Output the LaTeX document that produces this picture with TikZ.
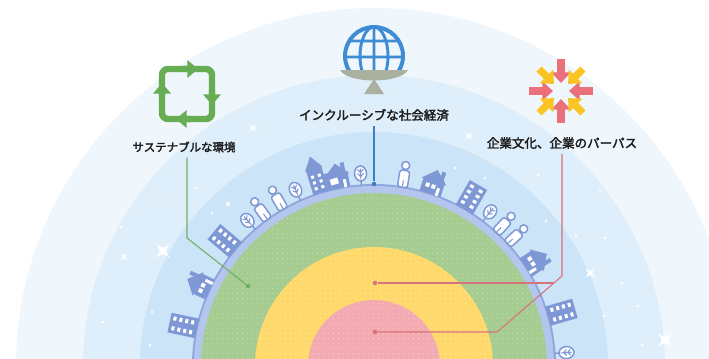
\documentclass[tikz,border=0pt]{standalone}
\usepackage{fontspec}
\newfontfamily\jpfont{Noto Sans CJK JP}[FakeBold=2.5]
\usetikzlibrary{arrows.meta,calc,patterns.meta}

\definecolor{ringA}{RGB}{239,246,252}
\definecolor{ringB}{RGB}{222,238,250}
\definecolor{ringC}{RGB}{203,228,247}
\definecolor{rimedge}{RGB}{143,167,222}
\definecolor{rimband}{RGB}{180,198,237}
\definecolor{greenlayer}{RGB}{166,204,146}
\definecolor{greendot}{RGB}{192,221,177}
\definecolor{yellowlayer}{RGB}{255,217,107}
\definecolor{yellowdot}{RGB}{255,231,160}
\definecolor{pinklayer}{RGB}{243,170,176}
\definecolor{pinkdot}{RGB}{249,200,205}
\definecolor{bldgblue}{RGB}{126,151,213}
\definecolor{envgreen}{RGB}{110,175,100}
\definecolor{socblue}{RGB}{60,125,200}
\definecolor{cultred}{RGB}{215,115,125}
\definecolor{recyclegreen}{RGB}{102,173,84}
\definecolor{globeblue}{RGB}{62,140,212}
\definecolor{scalegray}{RGB}{170,177,160}
\definecolor{burstred}{RGB}{234,112,122}
\definecolor{burstyellow}{RGB}{250,196,35}
\definecolor{labelink}{RGB}{30,30,30}

\tikzset{
  ringlabel/.style={font=\jpfont\fontsize{9.4}{11}\selectfont, text=labelink, inner sep=1pt, outer sep=3pt},
  leader/.style={line width=0.8pt},
  dotmark/.style={circle, fill=#1, inner sep=0pt, minimum size=3.5pt},
  bldg/.style={fill=bldgblue},
  outline/.style={draw=bldgblue, fill=white, line width=1.1pt},
  % rim figures, drawn upright with the base at (0,0)
  house/.pic={
    \fill[bldg] (-11,0) rectangle (11,14);
    \fill[bldg] (-13,13) -- (0,25) -- (13,13) -- cycle;
    \fill[bldg] (5,16) rectangle (9,25);
    \fill[white] (-7,6) rectangle (-3,10) (-1,6) rectangle (3,10) (5,0) rectangle (8,8);
  },
  tower/.pic={
    \fill[bldg] (-10,0) rectangle (10,28);
    \foreach \i in {0,1,2,3}
      \foreach \j in {-1,1}
        \fill[white] (\j*5-2,4+\i*6) rectangle ++(4,3);
  },
  church/.pic={
    \fill[bldg] (-8,0) rectangle (8,26);
    \fill[bldg] (-9,25) -- (0,38) -- (9,25) -- cycle;
    \fill[bldg] (8,0) rectangle (24,17);
    \foreach \i in {0,1,2}
      \fill[white] (-5,4+\i*6) rectangle ++(3,3) (2,4+\i*6) rectangle ++(3,3);
    \fill[white] (12,4) rectangle (20,10);
  },
  person/.pic={
    \draw[outline, rounded corners=2pt] (-5,0) rectangle (5,17);
    \draw[outline] (0,22) circle [radius=4];
    \draw[bldgblue, line width=0.8pt] (0,0) -- (0,7);
  },
  tree/.pic={
    \draw[bldgblue, line width=1pt] (0,0) -- (0,6);
    \draw[outline] (0,12) ellipse [x radius=6, y radius=7.5];
    \draw[bldgblue, line width=0.8pt] (0,6) -- (0,17) (0,9) -- (-3,12) (0,9) -- (3,12) (0,13) -- (-3,16) (0,13) -- (3,16);
  },
  sparkle/.pic={
    \fill[white] (0,-6) .. controls (1,-1) .. (6,0) .. controls (1,1) .. (0,6)
      .. controls (-1,1) .. (-6,0) .. controls (-1,-1) .. (0,-6) -- cycle;
  },
  % icons above the labels (y points up inside a pic)
  recycle/.pic={
    \foreach \r in {0,-90,-180,-270}
      \draw[recyclegreen, line width=4.8pt, rounded corners=4.5pt, rotate=\r,
        -{Triangle[length=8pt,width=13pt]}] (-25,-4) -- (-25,25) -- (11,25);
  },
  globe/.pic={
    \begin{scope}
      \clip (-36,-15) rectangle (36,36);
      \draw[globeblue, line width=3pt] (0,0) circle [radius=29];
      \draw[globeblue, line width=2.2pt] (0,0) ellipse [x radius=14, y radius=29]
        (0,29) -- (0,-15) (-25,15) -- (25,15) (-29,-1) -- (29,-1);
    \end{scope}
    \fill[scalegray] (-34,-14) -- (34,-14) .. controls (26,-28) and (-26,-28) .. cycle;
    \fill[scalegray] (0,-23) -- (-10,-38) -- (10,-38) -- cycle;
  },
  burst/.pic={
    \foreach \a in {0,90,180,270}
      \draw[burstred, line width=5.5pt, -{Triangle[length=8pt,width=14pt]}] (\a:32) -- (\a:8);
    \foreach \a in {45,135,225,315}
      \draw[burstyellow, line width=5.5pt, -{Triangle[length=8pt,width=14pt]}] (\a:31) -- (\a:10);
  }
}

\begin{document}
\begin{tikzpicture}[x=0.75pt,y=0.75pt,yscale=-1,xscale=1]
\useasboundingbox (0,0) rectangle (709,358);
\clip (0,0) rectangle (709,358);
\coordinate (cen) at (374,366);

% sky rings
\fill[ringA] (cen) circle [radius=358];
\fill[ringB] (cen) circle [radius=291];
\fill[ringC] (cen) circle [radius=234];

% stars and specks
\foreach \x/\y/\s in {163/251/1.6, 665/340/1.6, 590/273/1.1, 124/257/0.7, 253/128/0.8, 469/136/0.8, 228/204/0.55}
  \pic[scale=\s, rotate=45] at (\x,\y) {sparkle};
\foreach \x/\y in {152/312, 103/322, 150/345, 196/188, 212/213, 455/168, 485/178, 546/221, 538/175, 604/316, 622/283, 638/306, 576/236, 605/238, 642/345, 121/227, 160/200, 600/190}
  \fill[white] (\x,\y) circle [radius=1.3];

% planet: rim and the three layers
\fill[rimedge] (cen) circle [radius=182];
\fill[rimband] (cen) circle [radius=180];
\fill[greenlayer] (cen) circle [radius=173];
\fill[pattern={Dots[distance=4pt,radius=0.45pt]}, pattern color=greendot] (cen) circle [radius=173];
\fill[yellowlayer] (cen) circle [radius=119];
\fill[pattern={Dots[distance=4pt,radius=0.45pt]}, pattern color=yellowdot] (cen) circle [radius=119];
\fill[pinklayer] (cen) circle [radius=66];
\fill[pattern={Dots[distance=4pt,radius=0.45pt]}, pattern color=pinkdot] (cen) circle [radius=66];

% town along the rim
\begin{scope}[shift={(cen)}, yscale=-1]
  \foreach \a in {155,101,72,33} \pic[rotate=\a-90] at (\a:181) {house};
  \foreach \a in {168,140,60,16} \pic[rotate=\a-90] at (\a:181) {tower};
  \pic[rotate=17] at (107:181) {church};
  \foreach \a in {126,120,81,47.5,42.5} \pic[rotate=\a-90] at (\a:181) {person};
  \foreach \a in {131,114,94,53,4} \pic[rotate=\a-90] at (\a:181) {tree};
\end{scope}

% icons
\pic at (187,94) {recycle};
\pic at (374,56) {globe};
\pic at (561,91) {burst};

% Text Node
\node[ringlabel, font=\jpfont\fontsize{8.6}{11}\selectfont] (envLabel) at (184,147) {サステナブルな環境};
% Text Node
\node[ringlabel] (socLabel) at (374,115) {インクルーシブな社会経済};
% Text Node
\node[ringlabel] (cultLabel) at (562,143) {企業文化、企業のパーパス};

% leader ends
\node[dotmark=envgreen] (envDot) at (248,286) {};
\node[dotmark=socblue] (socDot) at (374,184) {};
\node[dotmark=cultred] (cultDotA) at (375,283) {};
\node[dotmark=cultred] (cultDotB) at (375,332) {};
\coordinate (envBend) at (187,238);
\coordinate (cultBend) at (562,276);
\coordinate (cultFoot) at (497,332);
\coordinate (cultJoin) at (554,283);

% leaders
\draw[leader, envgreen] (envBend |- envLabel.south) -- (envBend) -- (envDot);
\draw[leader, socblue] (socLabel.south) -- (socDot);
\draw[leader, cultred] (cultBend |- cultLabel.south) -- (cultBend) -- (cultFoot) -- (cultDotB);
\draw[leader, cultred] (cultDotA) -- (cultJoin);

\end{tikzpicture}
\end{document}
